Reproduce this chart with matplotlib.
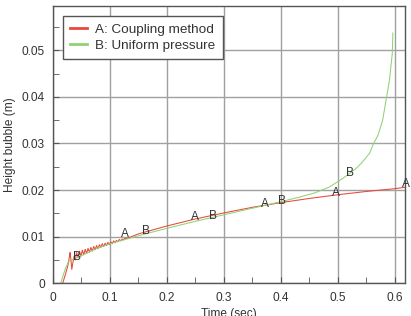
import matplotlib.pyplot as plt
from matplotlib.ticker import MultipleLocator

plt.rcParams['font.family'] = ['Liberation Sans', 'DejaVu Sans']
plt.rcParams['font.size'] = 8.6

# A: coupling method (red)
time_a = [0.017, 0.022, 0.026, 0.029, 0.030, 0.0315, 0.033, 0.035, 0.037,
          0.039, 0.0415, 0.044, 0.0465, 0.049, 0.0515, 0.054, 0.0565, 0.059,
          0.0615, 0.064, 0.0665, 0.069, 0.0715, 0.074, 0.0765, 0.079, 0.0815,
          0.084, 0.0865, 0.089, 0.0915, 0.094, 0.0965, 0.099, 0.1015, 0.104,
          0.1065, 0.109, 0.1115, 0.114, 0.1165, 0.119, 0.1215, 0.124, 0.1265,
          0.129, 0.15, 0.2, 0.25, 0.3, 0.35, 0.4, 0.45, 0.5, 0.55, 0.6, 0.618]
height_a = [0.0, 0.0020, 0.0038, 0.0058, 0.0066, 0.0050, 0.0030, 0.0045, 0.0058,
            0.0050, 0.0066, 0.0055, 0.0069, 0.0058, 0.0071, 0.0061, 0.0073, 0.0064,
            0.0075, 0.0067, 0.0077, 0.0069, 0.0079, 0.0072, 0.0081, 0.0074, 0.0083,
            0.0077, 0.0085, 0.0079, 0.0086, 0.0081, 0.0088, 0.0083, 0.0089, 0.0085,
            0.0091, 0.0087, 0.0092, 0.0089, 0.0094, 0.0091, 0.0095, 0.0093, 0.0097,
            0.0096, 0.0106, 0.0123, 0.0138, 0.0151, 0.0163, 0.0173, 0.0182, 0.0190,
            0.0197, 0.0203, 0.0206]

# B: uniform pressure (green)
time_b = [0.0135, 0.017, 0.021, 0.027, 0.0386, 0.053, 0.075, 0.1, 0.15,
          0.2, 0.25, 0.3, 0.35, 0.4, 0.43, 0.46, 0.486, 0.509, 0.533, 0.544,
          0.556, 0.562, 0.571, 0.579, 0.585, 0.591, 0.596, 0.597]
height_b = [0.0, 0.0014, 0.0029, 0.0046, 0.0054, 0.0061, 0.0074, 0.0085,
            0.0102, 0.0118, 0.0133, 0.0147, 0.0161, 0.0175, 0.0184, 0.0194,
            0.0207, 0.0225, 0.0247, 0.0261, 0.0279, 0.0297, 0.0318, 0.0350,
            0.0393, 0.0436, 0.0494, 0.0537]

# curve tags
tag_a_x = [0.126, 0.249, 0.372, 0.497, 0.62]
tag_a_y = [0.0106, 0.0143, 0.0170, 0.0193, 0.0213]
tag_b_x = [0.0426, 0.163, 0.281, 0.402, 0.521]
tag_b_y = [0.0057, 0.0112, 0.0144, 0.0177, 0.0237]

fig = plt.figure(figsize=(4.11, 3.16), dpi=100)
ax = fig.add_axes([0.129, 0.1035, 0.856, 0.8775])

ax.plot(time_a, height_a, color='#e8473b', lw=0.75, label='A: Coupling method')
ax.plot(time_b, height_b, color='#8fd274', lw=0.75, label='B: Uniform pressure')

for x, y in zip(tag_a_x, tag_a_y):
    ax.text(x, y, 'A', ha='center', va='center', color='#333333', clip_on=False)
for x, y in zip(tag_b_x, tag_b_y):
    ax.text(x, y, 'B', ha='center', va='center', color='#333333')

ax.set_xlim(0, 0.618)
ax.set_ylim(0, 0.0595)
ax.xaxis.set_major_locator(MultipleLocator(0.1))
ax.xaxis.set_minor_locator(MultipleLocator(0.05))
ax.yaxis.set_major_locator(MultipleLocator(0.01))
ax.yaxis.set_minor_locator(MultipleLocator(0.005))
ax.set_xticks([0, 0.1, 0.2, 0.3, 0.4, 0.5, 0.6])
ax.set_xticklabels(['0', '0.1', '0.2', '0.3', '0.4', '0.5', '0.6'])
ax.set_yticks([0, 0.01, 0.02, 0.03, 0.04, 0.05])
ax.set_yticklabels(['0', '0.01', '0.02', '0.03', '0.04', '0.05'])
ax.tick_params(which='both', direction='in', colors='#555555', labelcolor='#333333')
ax.tick_params(which='major', length=4, pad=6)
ax.tick_params(which='minor', length=4)
ax.grid(True, which='major', color='#a0a0a0', lw=1.0)
for s in ax.spines.values():
    s.set_color('#555555')
    s.set_linewidth(1.0)

ax.set_xlabel('Time (sec)', color='#333333', labelpad=3)
ax.set_ylabel('Height bubble (m)', color='#333333', labelpad=4)

leg = ax.legend(loc='upper left', bbox_to_anchor=(0.028, 0.965),
                borderaxespad=0, fancybox=False, edgecolor='#555555',
                framealpha=1, borderpad=0.55, handlelength=1.25,
                handletextpad=0.6, labelspacing=0.3, fontsize=9.7)
leg.get_frame().set_linewidth(1.0)
for line in leg.get_lines():
    line.set_linewidth(2)
for t in leg.get_texts():
    t.set_color('#333333')

fig.savefig('out.png', dpi=100)
